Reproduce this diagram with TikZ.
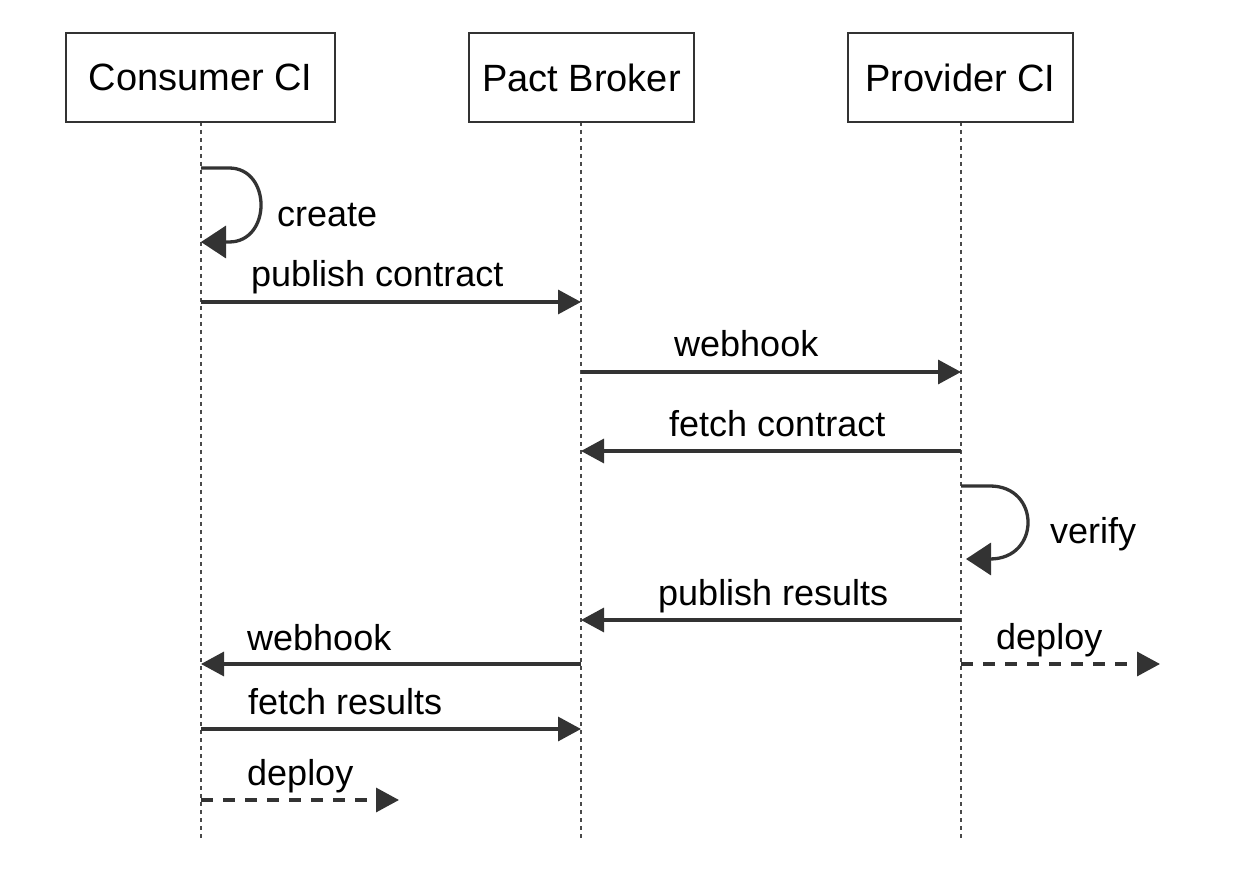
\documentclass[tikz,border=0pt]{standalone}
\usepackage{fontspec}
\setmainfont{Liberation Sans}
\usetikzlibrary{arrows.meta}
\definecolor{ink}{HTML}{333333}
\definecolor{lifec}{HTML}{4A4A4A}
\tikzset{
  actor/.style={draw=ink, line width=1.6pt, fill=white, minimum height=89pt, inner sep=0pt,
    font=\fontsize{38}{44}\selectfont},
  life/.style={draw=lifec, line width=1.3pt, dash pattern=on 4pt off 4pt},
  msg/.style={draw=ink, line width=3.3pt, -{Triangle[length=23pt,width=24pt]}},
  dmsg/.style={msg, dash pattern=on 12pt off 10pt},
  selfmsg/.style={draw=ink, line width=3.3pt, -{Triangle[length=25pt,width=32pt]}},
  lbl/.style={anchor=base west, inner sep=0pt, text=black, font=\fontsize{36}{42}\selectfont}
}
\begin{document}
\begin{tikzpicture}[x=1pt,y=-1pt]
\useasboundingbox (0,0) rectangle (1256,890);
% lifeline ends
\coordinate (cend) at (201,840);
\coordinate (bend) at (581,840);
\coordinate (pend) at (961,840);
\draw[life] (201,122) -- (cend);
\draw[life] (581,122) -- (bend);
\draw[life] (961,122) -- (pend);
% actors
\node[actor, minimum width=269pt] (c) at (200.5,77.5) {Consumer CI};
\node[actor, minimum width=225pt] (b) at (581.5,77.5) {Pact Broker};
\node[actor, minimum width=225pt] (p) at (960.5,77.5) {Provider CI};
% create (self)
\coordinate (cs1) at (201,168);
\coordinate (cs2) at (201,242);
\draw[selfmsg] (cs1) -- (229,168) .. controls (271.7,168) and (271.7,242) .. (229,242) -- (cs2);
\node[lbl] (lcreate) at (277,227) {create};
% publish contract
\coordinate (c1) at (201,302); \coordinate (b1) at (581,302);
\draw[msg] (c1) -- (b1);
\node[lbl] (l1) at (251,287) {publish contract};
% webhook
\coordinate (b2) at (581,372); \coordinate (p2) at (961,372);
\draw[msg] (b2) -- (p2);
\node[lbl] (l2) at (674,357) {webhook};
% fetch contract
\coordinate (p3) at (961,451); \coordinate (b3) at (581,451);
\draw[msg] (p3) -- (b3);
\node[lbl] (l3) at (669,436) {fetch contract};
% verify (self)
\coordinate (ps1) at (961,486);
\coordinate (ps2) at (966,559);
\draw[selfmsg] (ps1) -- (990,486) .. controls (1040.7,486) and (1040.7,559) .. (990,559) -- (ps2);
\node[lbl] (lverify) at (1050,543) {verify};
% publish results
\coordinate (p4) at (961,620); \coordinate (b4) at (581,620);
\draw[msg] (p4) -- (b4);
\node[lbl] (l4) at (658,605) {publish results};
% webhook back
\coordinate (b5) at (581,664); \coordinate (c5) at (201,664);
\draw[msg] (b5) -- (c5);
\node[lbl] (l5) at (247,650) {webhook};
% deploy provider
\coordinate (p6) at (961,664); \coordinate (p6e) at (1160,664);
\draw[dmsg] (p6) -- (p6e);
\node[lbl] (l6) at (996,649) {deploy};
% fetch results
\coordinate (c7) at (201,729); \coordinate (b7) at (581,729);
\draw[msg] (c7) -- (b7);
\node[lbl] (l7) at (248,714) {fetch results};
% deploy consumer
\coordinate (c8) at (201,800); \coordinate (c8e) at (399,800);
\draw[dmsg] (c8) -- (c8e);
\node[lbl] (l8) at (247,785) {deploy};
\end{tikzpicture}
\end{document}
